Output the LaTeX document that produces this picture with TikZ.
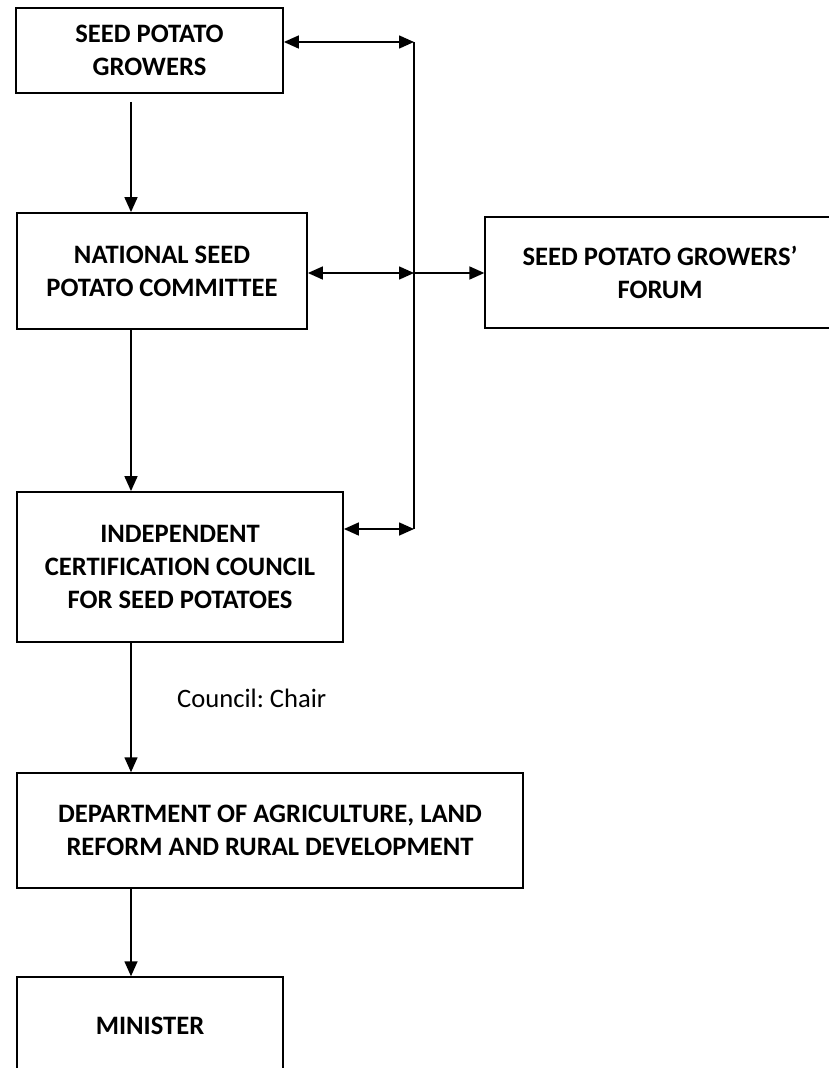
\documentclass[tikz,border=0pt]{standalone}
\usepackage{fontspec}
\setmainfont{Carlito}
\usetikzlibrary{arrows.meta}
\frenchspacing
\begin{document}
\begin{tikzpicture}[x=1pt,y=-1pt,
  box/.style={draw, line width=1.8pt, align=center, font=\fontsize{26.6}{33}\selectfont\bfseries, inner sep=0pt},
  conn/.style={line width=1.6pt, -{Triangle[length=15pt,width=13pt]}},
  dconn/.style={line width=1.6pt, {Triangle[length=15pt,width=13pt]}-{Triangle[length=15pt,width=13pt]}},
  vline/.style={line width=1.3pt},
  lbl/.style={font=\fontsize{26.6}{33}\selectfont, inner sep=0pt}]
\useasboundingbox (0,0) rectangle (829,1068);
\clip (0,0) rectangle (829,1068);

\node[box, minimum width=267pt, minimum height=85pt] (spg) at (149.5,50.5) {SEED POTATO\\GROWERS};
\node[box, minimum width=290pt, minimum height=116pt] (nspc) at (162,271) {NATIONAL SEED\\POTATO COMMITTEE};
\node[box, line width=1.3pt, minimum width=350pt, minimum height=111pt] (forum) at (660,272.5) {SEED POTATO GROWERS'\\FORUM};
\node[box, minimum width=326pt, minimum height=150pt] (icc) at (180,567) {INDEPENDENT\\CERTIFICATION COUNCIL\\FOR SEED POTATOES};
\node[box, line width=1.5pt, minimum width=506pt, minimum height=115pt] (dalrrd) at (270,830.5) {DEPARTMENT OF AGRICULTURE, LAND\\REFORM AND RURAL DEVELOPMENT};
\node[box, line width=1.5pt, minimum width=266pt, minimum height=98pt] (min) at (150,1026) {MINISTER};

\node[lbl, anchor=west] (chair) at (177,698) {Council: Chair};

\coordinate (ax) at (131,0);
\coordinate (vt) at (414,42);
\coordinate (vm) at (414,273);
\coordinate (vb) at (414,529);

\draw[vline] (vt) -- (vb);
\draw[dconn] (spg.east |- vt) -- (vt);
\draw[dconn] (nspc.east |- vm) -- (vm);
\draw[conn] (vm) -- (forum.west |- vm);
\draw[dconn] (icc.east |- vb) -- (vb);

\draw[conn] ([yshift=-8pt]spg.south -| ax) -- (nspc.north -| ax);
\draw[conn] (nspc.south -| ax) -- (icc.north -| ax);
\draw[conn] (icc.south -| ax) -- (dalrrd.north -| ax);
\draw[conn] (dalrrd.south -| ax) -- (min.north -| ax);
\end{tikzpicture}
\end{document}
